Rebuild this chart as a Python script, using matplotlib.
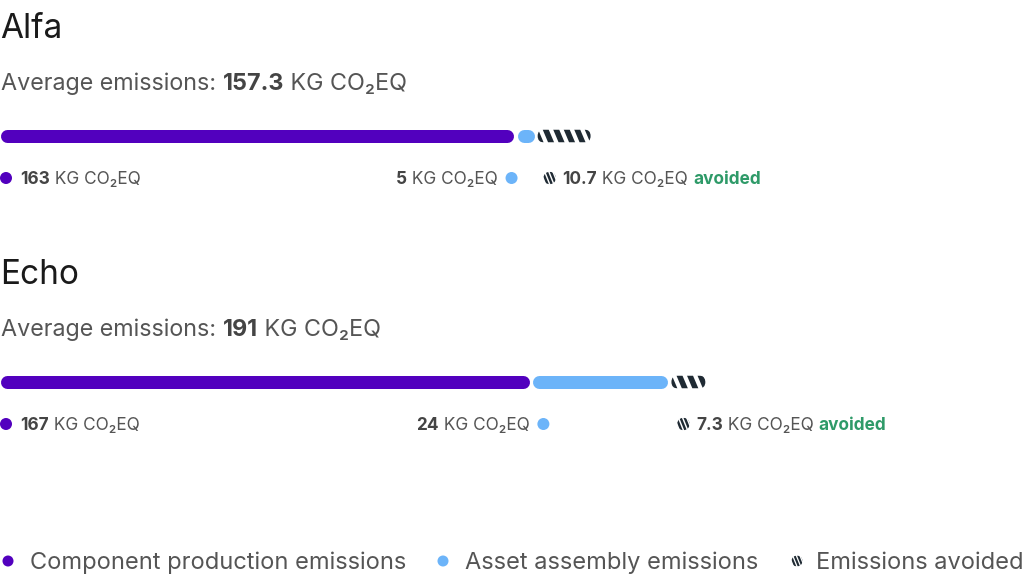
import matplotlib.pyplot as plt
from matplotlib.patches import Circle, FancyBboxPatch, Polygon

plt.rcParams['font.family'] = ['Inter', 'DejaVu Sans']

# data
groups = ["Alfa", "Echo"]
averages = ["157.3", "191"]
component = [163, 167]
assembly = [5, 24]
avoided = [10.7, 7.3]
# bar lengths as they appear in the picture (kg units)
component_len = [162, 167]
assembly_len = [5.4, 42.6]
avoided_len = [16.7, 10.7]
legend_labels = ["Component production emissions", "Asset assembly emissions", "Emissions avoided"]

PURPLE = "#5200BE"
BLUE = "#6CB4F9"
DARK = "#1F2A33"
GREEN = "#2E9A68"
TEXT_DARK = "#1A1A1A"
TEXT_GREY = "#555555"
TEXT_BOLD = "#444444"

W, H = 1024, 581
S = 3.17  # pixels per kg

fig = plt.figure(figsize=(W / 100, H / 100), dpi=100)
ax = fig.add_axes([0, 0, 1, 1])
ax.set_xlim(0, W / S)
ax.set_ylim(H / S, 0)
ax.axis("off")
renderer = fig.canvas.get_renderer()


def u(px):
    return px / S


def rich(x, y, parts, size, ha="left"):
    # parts: (string, weight, color); drawn one after another on one baseline
    texts = []
    widths = []
    for s, w, c in parts:
        t = ax.text(0, y, s, fontsize=size, fontweight=w, color=c, va="baseline", ha="left")
        widths.append(t.get_window_extent(renderer).width)
        texts.append(t)
    total = sum(widths)
    cur = x if ha == "left" else x - u(total)
    for t, w in zip(texts, widths):
        t.set_x(cur)
        cur += u(w)
    return cur


def hatched(x0, x1, yc, h, period, stripe, slant):
    box = FancyBboxPatch((x0, yc - h / 2), x1 - x0, h,
                         boxstyle="round,pad=0,rounding_size=%f" % (h / 2),
                         fc="none", ec="none")
    ax.add_patch(box)
    xs = x0 - slant - period
    while xs < x1 + period:
        p = Polygon([(xs, yc - h / 2), (xs + stripe, yc - h / 2),
                     (xs + stripe + slant, yc + h / 2), (xs + slant, yc + h / 2)],
                    closed=True, fc=DARK, ec="none")
        ax.add_patch(p)
        p.set_clip_path(box)
        xs += period


def hatch_icon(xc, yc, d):
    c = Circle((xc, yc), d / 2, fc="none", ec="none")
    ax.add_patch(c)
    period = d / 3.0
    slant = d * 0.4
    xs = xc - d
    while xs < xc + d:
        p = Polygon([(xs, yc - d / 2), (xs + period * 0.62, yc - d / 2),
                     (xs + period * 0.62 + slant, yc + d / 2), (xs + slant, yc + d / 2)],
                    closed=True, fc=DARK, ec="none")
        ax.add_patch(p)
        p.set_clip_path(c)
        xs += period


bar_h = u(13)
gap = u(3.5)
lw = 13 * 0.72

for i, g in enumerate(groups):
    off = 246 * i
    ax.text(u(0), u(38 + off), g, fontsize=24, color=TEXT_DARK, va="baseline")
    rich(u(1), u(90 + off),
         [("Average emissions: ", "normal", TEXT_GREY),
          (averages[i], "bold", TEXT_BOLD),
          (" KG CO\u2082EQ", "normal", TEXT_GREY)], 16.8)

    yc = u(136 + off)
    r = bar_h / 2
    p_end = component_len[i]
    b0 = p_end + gap
    b1 = b0 + assembly_len[i]
    h0 = b1 + gap
    h1 = h0 + avoided_len[i]
    ax.plot([0 + r, p_end - r], [yc, yc], color=PURPLE, lw=lw, solid_capstyle="round")
    ax.plot([b0 + r, max(b1 - r, b0 + r + 0.01)], [yc, yc], color=BLUE, lw=lw, solid_capstyle="round")
    hatched(h0, h1, yc, bar_h, u(10.5), u(6), u(5.5))

    # value labels
    ly = u(184 + off)
    dot_y = u(178 + off)
    ax.add_patch(Circle((u(6), dot_y), u(6), fc=PURPLE, ec="none"))
    rich(u(20), ly, [(str(component[i]), "bold", TEXT_BOLD),
                     (" KG CO\u2082EQ", "normal", TEXT_GREY)], 12.4)
    bx = p_end + u(14) if i else p_end - u(2)
    ax.add_patch(Circle((bx, dot_y), u(6), fc=BLUE, ec="none"))
    rich(bx - u(14), ly, [(str(assembly[i]), "bold", TEXT_BOLD),
                          (" KG CO\u2082EQ", "normal", TEXT_GREY)], 12.4, ha="right")
    hx = h0 + u(12)
    hatch_icon(hx, dot_y, u(12.5))
    rich(hx + u(13), ly, [(str(avoided[i]), "bold", TEXT_BOLD),
                          (" KG CO\u2082EQ ", "normal", TEXT_GREY),
                          ("avoided", "bold", GREEN)], 12.4)

# legend
leg_y = u(569)
leg_dot = u(561)
ax.add_patch(Circle((u(8), leg_dot), u(5.5), fc=PURPLE, ec="none"))
rich(u(30), leg_y, [(legend_labels[0], "normal", TEXT_GREY)], 17)
ax.add_patch(Circle((u(443), leg_dot), u(5.5), fc=BLUE, ec="none"))
rich(u(465), leg_y, [(legend_labels[1], "normal", TEXT_GREY)], 17)
hatch_icon(u(797), leg_dot, u(11))
rich(u(816), leg_y, [(legend_labels[2], "normal", TEXT_GREY)], 17)

fig.savefig("out.png", dpi=100)
